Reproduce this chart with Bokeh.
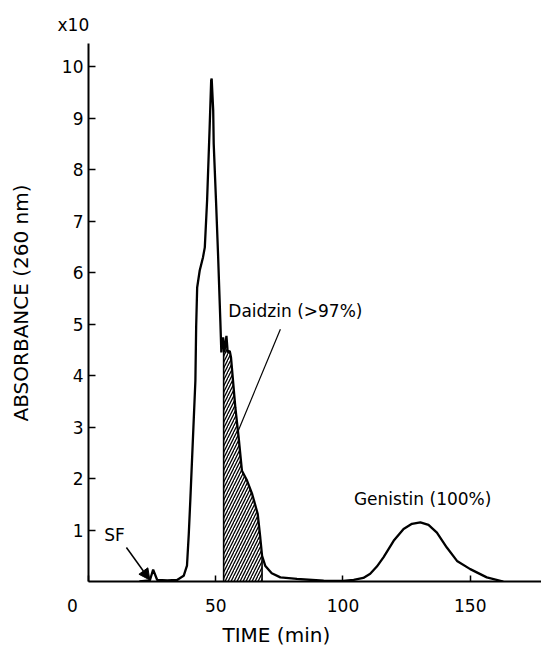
import numpy as np
from bokeh.plotting import figure
from bokeh.models import Label, Arrow, NormalHead, FixedTicker, Range1d, Title
from bokeh.embed import file_html
from bokeh.resources import INLINE

# chromatogram trace (time in min, absorbance x10)
time = [20, 24.1, 25.4, 27.0, 31, 34.8, 37.4, 38.7, 39.4, 40.0, 42.0, 42.3, 42.7, 43.7,
        45.0, 45.7, 46.6, 47.6, 48.2, 48.4, 49.0, 49.2, 50.1, 50.9, 51.8, 52.2, 52.9,
        53.4, 54.2, 54.7, 55.5, 56.0, 57.7, 59.0, 60.3, 62.3, 64.3, 66.5, 67.5, 68.2,
        69.5, 72.0, 75.4, 81.9, 92.4, 100, 104.2, 108.0, 110.7, 113.3, 115.9, 119.9,
        123.8, 127.1, 130.4, 133.6, 136.9, 140.8, 144.8, 150.0, 156.5, 163.0]
absorbance = [0, 0.02, 0.23, 0.03, 0.02, 0.03, 0.11, 0.31, 0.92, 1.57, 3.90, 4.94, 5.71, 6.04,
              6.30, 6.49, 7.40, 8.82, 9.73, 9.77, 9.15, 8.50, 7.40, 6.36, 5.07, 4.45, 4.74,
              4.45, 4.77, 4.45, 4.48, 4.35, 3.38, 2.80, 2.15, 1.96, 1.70, 1.31, 0.85, 0.50,
              0.30, 0.16, 0.08, 0.05, 0.015, 0.01, 0.03, 0.07, 0.15, 0.29, 0.47, 0.79,
              1.02, 1.12, 1.15, 1.10, 0.95, 0.66, 0.40, 0.24, 0.08, 0]

# collected daidzin fraction
fraction_start = 53.1
fraction_end = 68.2

x_ticks = [0, 50, 100, 150]
x_tick_labels = {0: "0" + "\u00a0" * 6}
y_ticks = [1, 2, 3, 4, 5, 6, 7, 8, 9, 10]

# annotations
daidzin_text = "Daidzin (>97%)"
daidzin_pos = (81.3, 5.25)
daidzin_leader_x = [75.4, 58.6]
daidzin_leader_y = [4.90, 2.90]
genistin_text = "Genistin (100%)"
genistin_pos = (131.3, 1.61)
sf_text = "SF"
sf_pos = (10.2, 0.9)
sf_arrow = (14.9, 0.66, 24.1, 0.03)
scale_text = "x10"
x_label = "TIME (min)"
y_label = "ABSORBANCE (260 nm)"

FONT = "DejaVu Sans"

p = figure(width=541, height=648, output_backend="svg", toolbar_location=None,
           x_range=Range1d(0, 178), y_range=Range1d(0, 10.45),
           min_border_left=88, min_border_right=0, min_border_top=43, min_border_bottom=67)
p.outline_line_color = None
p.xgrid.visible = False
p.ygrid.visible = False
p.background_fill_color = "white"

t = np.array(time, dtype=float)
a = np.array(absorbance, dtype=float)

# hatched fraction
mask = (t > fraction_start) & (t < fraction_end)
hx = np.concatenate([[fraction_start], t[mask], [fraction_end]])
hy = np.concatenate([[np.interp(fraction_start, t, a)], a[mask], [np.interp(fraction_end, t, a)]])
p.varea(x=hx, y1=np.zeros_like(hx), y2=hy, fill_color=None, fill_alpha=0,
        hatch_pattern="/", hatch_scale=6, hatch_weight=1.3, hatch_color="black")
p.segment(x0=[fraction_start, fraction_end], y0=[0, 0],
          x1=[fraction_start, fraction_end], y1=[hy[0], hy[-1]],
          line_color="black", line_width=1.6)

p.line(t, a, line_color="black", line_width=2.3)

# leader line
p.line(daidzin_leader_x, daidzin_leader_y, line_color="black", line_width=1.2)

# axes
for ax in (p.xaxis[0], p.yaxis[0]):
    ax.axis_line_width = 2
    ax.axis_line_color = "black"
    ax.major_tick_line_width = 1.5
    ax.major_tick_out = 0
    ax.minor_tick_line_color = None
    ax.major_label_text_font = FONT
    ax.major_label_text_font_size = "17px"
    ax.major_label_text_color = "black"
p.xaxis[0].ticker = FixedTicker(ticks=x_ticks)
p.xaxis[0].major_label_overrides = x_tick_labels
p.yaxis[0].ticker = FixedTicker(ticks=y_ticks)
p.xaxis[0].major_tick_in = 6
p.yaxis[0].major_tick_in = 7
p.xaxis[0].major_label_standoff = 14
p.yaxis[0].major_label_standoff = 5

yax = p.yaxis[0]
yax.axis_label = "\u00a0\u00a0\u00a0" + y_label
yax.axis_label_text_font = FONT
yax.axis_label_text_font_size = "20px"
yax.axis_label_text_font_style = "normal"
yax.axis_label_text_color = "black"
yax.axis_label_standoff = 26

def lab(x, y, text, size="17px"):
    p.add_layout(Label(x=x, y=y, text=text, text_font=FONT, text_font_size=size,
                       text_align="center", text_baseline="middle", text_color="black"))

lab(daidzin_pos[0], daidzin_pos[1], daidzin_text)
lab(genistin_pos[0], genistin_pos[1], genistin_text)
lab(sf_pos[0], sf_pos[1], sf_text)

p.add_layout(Title(text=scale_text, align="left", offset=-31, text_font=FONT, text_color="black",
                   text_font_size="17px", text_font_style="normal", standoff=17), "above")
p.add_layout(Title(text=x_label, align="left", offset=134, text_font=FONT, text_color="black",
                   text_font_size="20px", text_font_style="normal", standoff=4), "below")

p.add_layout(Arrow(x_start=sf_arrow[0], y_start=sf_arrow[1], x_end=sf_arrow[2], y_end=sf_arrow[3],
                   line_width=1.5, line_color="black",
                   end=NormalHead(size=11, fill_color="black", line_color="black")))

open("out.html", "w").write(file_html(p, INLINE))
